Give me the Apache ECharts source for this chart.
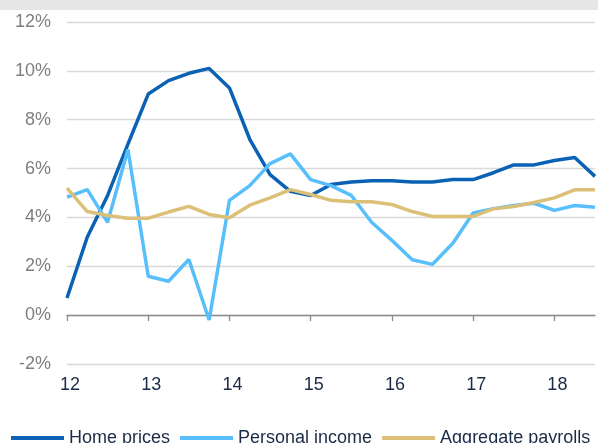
<!DOCTYPE html>
<html>
<head>
<meta charset="utf-8">
<script src="https://cdn.jsdelivr.net/npm/echarts@6/dist/echarts.min.js"></script>
<style>
  html, body { margin: 0; padding: 0; background: #fff; }
  #chart { width: 598px; height: 443px; }
</style>
</head>
<body>
<div id="chart"></div>
<script>
// quarterly observations, 2012 Q1 .. 2018 Q3
const quarters = [
  '12Q1', '12Q2', '12Q3', '12Q4', '13Q1', '13Q2', '13Q3', '13Q4',
  '14Q1', '14Q2', '14Q3', '14Q4', '15Q1', '15Q2', '15Q3', '15Q4',
  '16Q1', '16Q2', '16Q3', '16Q4', '17Q1', '17Q2', '17Q3', '17Q4',
  '18Q1', '18Q2', '18Q3'
]
const yearLabels = ['12', '13', '14', '15', '16', '17', '18']

const homePrices = [0.7, 3.2, 4.9, 7.0, 9.05, 9.6, 9.9, 10.1, 9.3, 7.2, 5.75, 5.07, 4.9, 5.35, 5.45, 5.5, 5.5, 5.45, 5.45, 5.55, 5.55, 5.83, 6.15, 6.15, 6.33, 6.45, 5.68]
const personalIncome = [4.83, 5.14, 3.8, 6.78, 1.59, 1.39, 2.28, -0.2, 4.7, 5.3, 6.2, 6.6, 5.55, 5.3, 4.9, 3.8, 3.06, 2.27, 2.08, 2.94, 4.18, 4.36, 4.49, 4.58, 4.29, 4.49, 4.42]
const aggregatePayrolls = [5.2, 4.24, 4.08, 3.97, 3.97, 4.22, 4.45, 4.12, 3.99, 4.5, 4.8, 5.14, 4.94, 4.7, 4.64, 4.64, 4.53, 4.24, 4.04, 4.04, 4.04, 4.35, 4.45, 4.61, 4.8, 5.13, 5.13]

const font = 'Liberation Sans, Arial, sans-serif'
const navy = '#1b2a47'

const chart = echarts.init(document.getElementById('chart'))

function lineSeries (name, data, color) {
  return {
    name: name,
    type: 'line',
    xAxisIndex: 0,
    data: data,
    showSymbol: false,
    symbol: 'none',
    lineStyle: { width: 3.5, color: color },
    itemStyle: { color: color },
    animation: false
  }
}

chart.setOption({
  animation: false,
  textStyle: { fontFamily: font },
  graphic: [{
    type: 'rect',
    shape: { x: 0, y: 0, width: 598, height: 10 },
    style: { fill: '#e6e6e6' },
    silent: true
  }],
  grid: { left: 67, right: 3, top: 22, bottom: 79, containLabel: false },
  legend: {
    left: 6,
    top: 424,
    icon: 'rect',
    itemWidth: 53,
    itemHeight: 4,
    itemGap: 10,
    textStyle: { fontFamily: font, fontSize: 18, color: navy },
    data: ['Home prices', 'Personal income', 'Aggregate payrolls']
  },
  xAxis: [
    {
      type: 'category',
      data: quarters,
      boundaryGap: false,
      axisLine: { onZero: true, lineStyle: { color: '#8c8c8c', width: 1.3 } },
      axisTick: { show: true, interval: 3, length: 6, lineStyle: { color: '#8c8c8c', width: 1.3 } },
      axisLabel: { show: false },
      splitLine: { show: false }
    },
    {
      type: 'category',
      data: quarters,
      boundaryGap: false,
      position: 'bottom',
      axisLine: { show: false, onZero: false },
      axisTick: { show: false },
      splitLine: { show: false },
      axisLabel: {
        interval: 3,
        margin: 12,
        padding: [0, 0, 0, 6],
        fontFamily: font,
        fontSize: 18,
        color: navy,
        formatter: function (v, idx) {
          return idx % 4 === 0 ? yearLabels[idx / 4] : ''
        }
      }
    }
  ],
  yAxis: {
    type: 'value',
    min: -2,
    max: 12,
    interval: 2,
    axisLine: { show: false },
    axisTick: { show: false },
    axisLabel: {
      margin: 16,
      fontFamily: font,
      fontSize: 18,
      color: '#7f7f7f',
      formatter: '{value}%'
    },
    splitLine: { lineStyle: { color: '#d9d9d9', width: 1.3 } }
  },
  series: [
    lineSeries('Home prices', homePrices, '#0b62b5'),
    lineSeries('Personal income', personalIncome, '#58bffc'),
    lineSeries('Aggregate payrolls', aggregatePayrolls, '#dcc078')
  ]
})
</script>
</body>
</html>
